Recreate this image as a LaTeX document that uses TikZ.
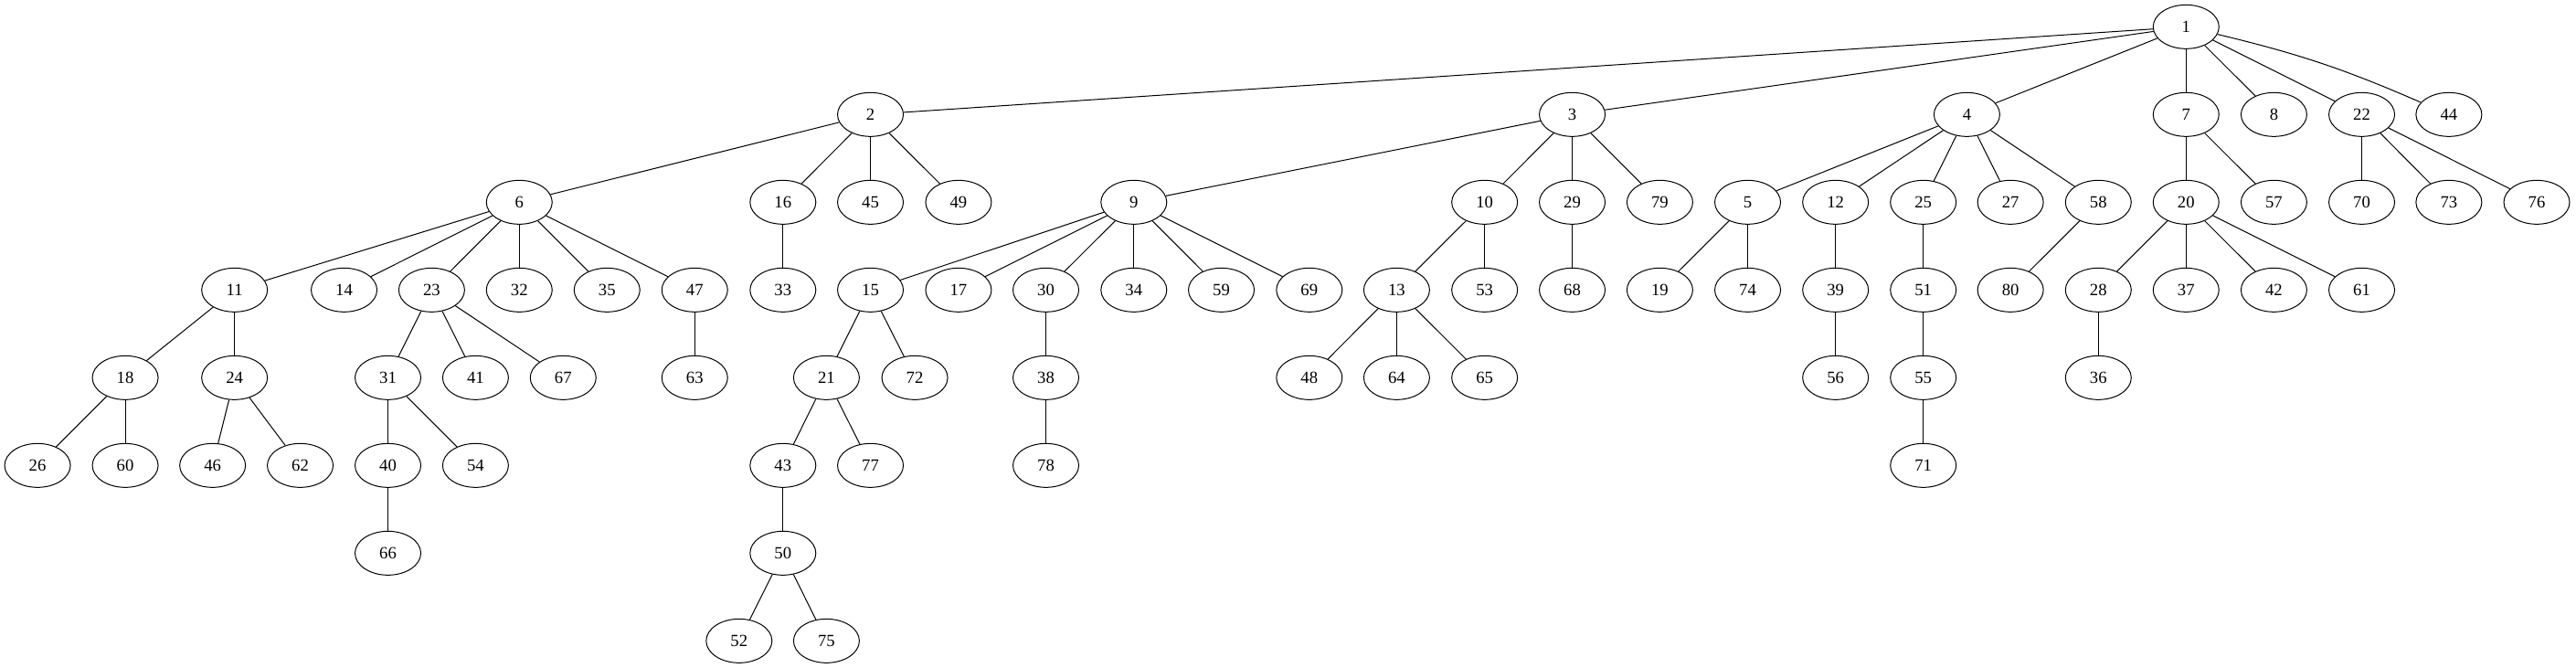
\documentclass[tikz,border=0pt]{standalone}
\usepackage{fontspec}
\setmainfont{Liberation Serif}
\usetikzlibrary{shapes.geometric}
\tikzset{
  tn/.style={ellipse, draw, line width=0.75pt, minimum width=54pt, minimum height=36pt, inner sep=0pt, font=\fontsize{14}{16}\selectfont},
  te/.style={line width=0.75pt}
}
\begin{document}
\begin{tikzpicture}[x=1pt,y=-1pt]
\useasboundingbox (0,0) rectangle (2114.25,548.25);
\def\ra{22}\def\rb{94}\def\rc{166}\def\rd{238}\def\re{310}\def\rf{382}\def\rg{454}\def\rh{526}
% row 0
\node[tn] (n1) at (1794.2,\ra) {1};
% row 1
\node[tn] (n2) at (714.4,\rb) {2};
\node[tn] (n3) at (1290.4,\rb) {3};
\node[tn] (n4) at (1614.3,\rb) {4};
\node[tn] (n7) at (1794.2,\rb) {7};
\node[tn] (n8) at (1866.3,\rb) {8};
\node[tn] (n22) at (1938.4,\rb) {22};
\node[tn] (n44) at (2009.9,\rb) {44};
% row 2
\node[tn] (n6) at (426.2,\rc) {6};
\node[tn] (n16) at (642.6,\rc) {16};
\node[tn] (n45) at (714.4,\rc) {45};
\node[tn] (n49) at (786.7,\rc) {49};
\node[tn] (n9) at (930.6,\rc) {9};
\node[tn] (n10) at (1218.5,\rc) {10};
\node[tn] (n29) at (1290.4,\rc) {29};
\node[tn] (n79) at (1362.3,\rc) {79};
\node[tn] (n5) at (1434.4,\rc) {5};
\node[tn] (n12) at (1506.5,\rc) {12};
\node[tn] (n25) at (1578.5,\rc) {25};
\node[tn] (n27) at (1650.1,\rc) {27};
\node[tn] (n58) at (1722.2,\rc) {58};
\node[tn] (n20) at (1794.2,\rc) {20};
\node[tn] (n57) at (1866.3,\rc) {57};
\node[tn] (n70) at (1938.4,\rc) {70};
\node[tn] (n73) at (2009.9,\rc) {73};
\node[tn] (n76) at (2082,\rc) {76};
% row 3
\node[tn] (n11) at (192.5,\rd) {11};
\node[tn] (n14) at (282.4,\rd) {14};
\node[tn] (n23) at (354.3,\rd) {23};
\node[tn] (n32) at (426.2,\rd) {32};
\node[tn] (n35) at (498.2,\rd) {35};
\node[tn] (n47) at (570.2,\rd) {47};
\node[tn] (n33) at (642.6,\rd) {33};
\node[tn] (n15) at (714.4,\rd) {15};
\node[tn] (n17) at (786.7,\rd) {17};
\node[tn] (n30) at (858.4,\rd) {30};
\node[tn] (n34) at (930.6,\rd) {34};
\node[tn] (n59) at (1002.4,\rd) {59};
\node[tn] (n69) at (1074.6,\rd) {69};
\node[tn] (n13) at (1146.3,\rd) {13};
\node[tn] (n53) at (1218.5,\rd) {53};
\node[tn] (n68) at (1290.4,\rd) {68};
\node[tn] (n19) at (1362.3,\rd) {19};
\node[tn] (n74) at (1434.4,\rd) {74};
\node[tn] (n39) at (1506.5,\rd) {39};
\node[tn] (n51) at (1578.5,\rd) {51};
\node[tn] (n80) at (1650.1,\rd) {80};
\node[tn] (n28) at (1722.2,\rd) {28};
\node[tn] (n37) at (1794.2,\rd) {37};
\node[tn] (n42) at (1866.3,\rd) {42};
\node[tn] (n61) at (1938.4,\rd) {61};
% row 4
\node[tn] (n18) at (102.8,\re) {18};
\node[tn] (n24) at (192.5,\re) {24};
\node[tn] (n31) at (318.4,\re) {31};
\node[tn] (n41) at (390.3,\re) {41};
\node[tn] (n67) at (462.2,\re) {67};
\node[tn] (n63) at (570.2,\re) {63};
\node[tn] (n21) at (678.3,\re) {21};
\node[tn] (n72) at (750.8,\re) {72};
\node[tn] (n38) at (858.4,\re) {38};
\node[tn] (n48) at (1074.6,\re) {48};
\node[tn] (n64) at (1146.3,\re) {64};
\node[tn] (n65) at (1218.5,\re) {65};
\node[tn] (n56) at (1506.5,\re) {56};
\node[tn] (n55) at (1578.5,\re) {55};
\node[tn] (n36) at (1722.2,\re) {36};
% row 5
\node[tn] (n26) at (30.8,\rf) {26};
\node[tn] (n60) at (102.8,\rf) {60};
\node[tn] (n46) at (174.5,\rf) {46};
\node[tn] (n62) at (246.4,\rf) {62};
\node[tn] (n40) at (318.4,\rf) {40};
\node[tn] (n54) at (390.3,\rf) {54};
\node[tn] (n43) at (642.6,\rf) {43};
\node[tn] (n77) at (714.4,\rf) {77};
\node[tn] (n78) at (858.4,\rf) {78};
\node[tn] (n71) at (1578.5,\rf) {71};
% row 6
\node[tn] (n66) at (318.4,\rg) {66};
\node[tn] (n50) at (642.6,\rg) {50};
% row 7
\node[tn] (n52) at (606.6,\rh) {52};
\node[tn] (n75) at (678.3,\rh) {75};
% edges
\foreach \a/\b in {1/2,1/3,1/4,1/7,1/8,1/22,
  2/6,2/16,2/45,2/49,3/9,3/10,3/29,3/79,4/5,4/12,4/25,4/27,4/58,7/20,7/57,22/70,22/73,22/76,
  6/11,6/14,6/23,6/32,6/35,6/47,16/33,9/15,9/17,9/30,9/34,9/59,9/69,10/13,10/53,29/68,5/19,5/74,12/39,25/51,58/80,
  20/28,20/37,20/42,20/61,11/18,11/24,23/31,23/41,23/67,47/63,15/21,15/72,30/38,13/48,13/64,13/65,39/56,51/55,28/36,
  18/26,18/60,24/46,24/62,31/40,31/54,21/43,21/77,38/78,55/71,40/66,43/50,50/52,50/75}
  \draw[te] (n\a) -- (n\b);
\draw[te] (n1) to[bend left=5] (n44);
\end{tikzpicture}
\end{document}
